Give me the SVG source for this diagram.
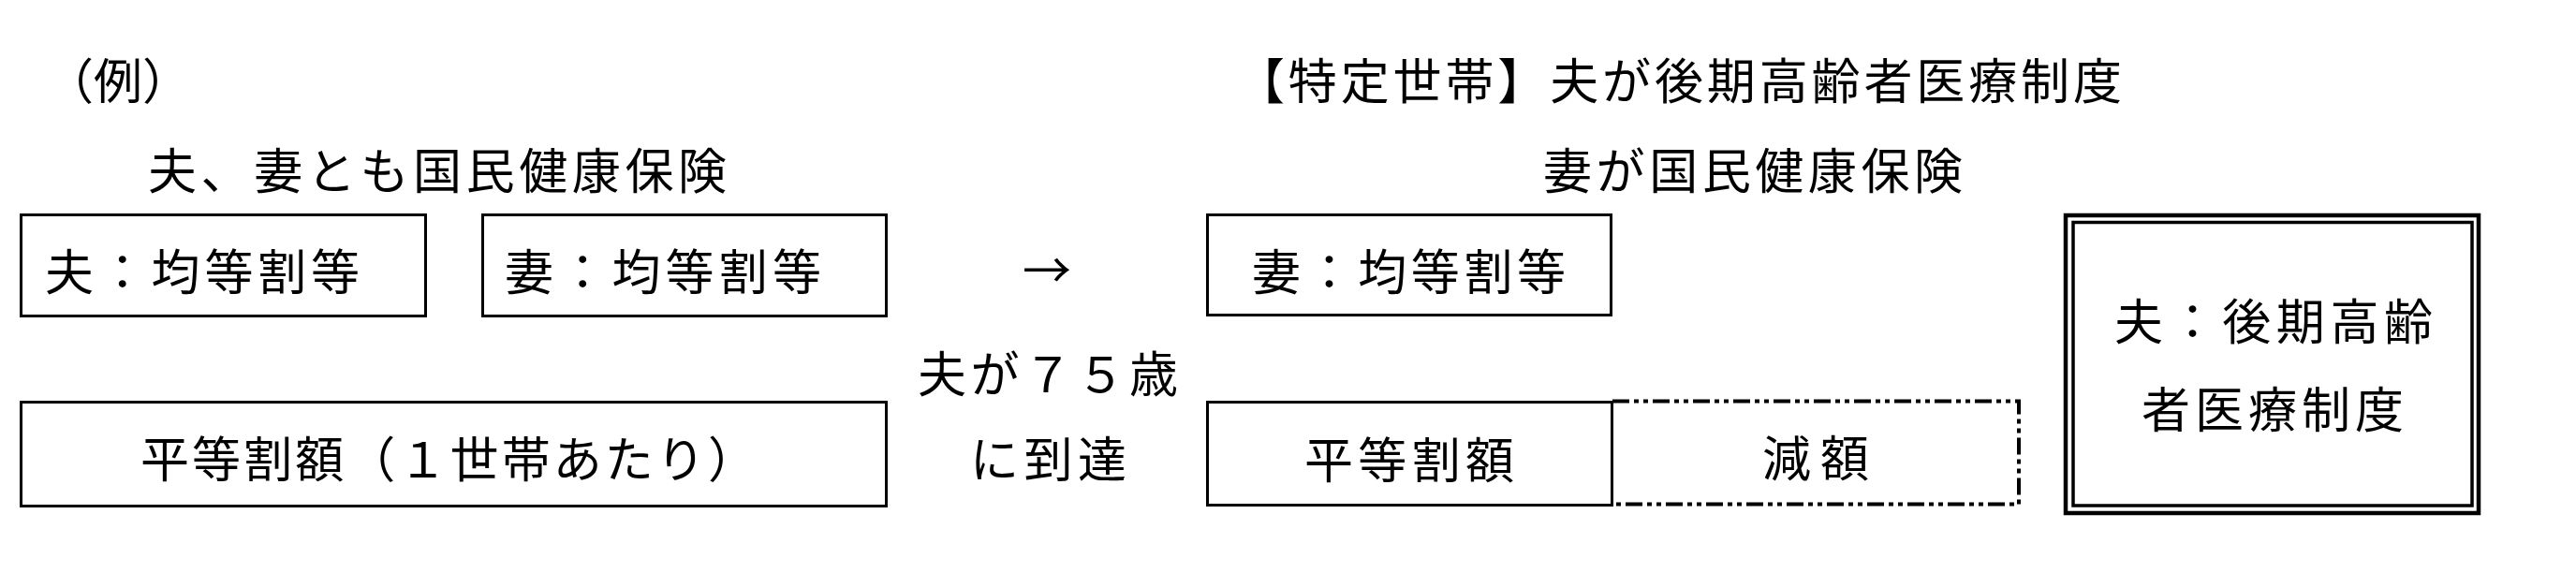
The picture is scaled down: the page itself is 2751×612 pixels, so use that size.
<svg xmlns="http://www.w3.org/2000/svg" width="2751" height="612" viewBox="0 0 2751 612">
<style>
text{font-family:"Noto Sans CJK JP","Noto Sans CJK SC",sans-serif;font-size:52px;fill:#000;}
.box{fill:none;stroke:#000;stroke-width:3;}
.dash{fill:none;stroke:#000;stroke-width:4;stroke-dasharray:18 5 5 5 5 5;}
.outer{fill:none;stroke:#000;stroke-width:4.5;}
.inner{fill:none;stroke:#000;stroke-width:3.5;}
</style>
<rect x="0" y="0" width="2751" height="612" fill="#fff"/>
<g id="labels">
<text x="48" y="106" font-size="56">（例）</text>
<text x="158" y="202" textLength="618" lengthAdjust="spacing">夫、妻とも国民健康保険</text>
<text x="1320" y="106" textLength="946" lengthAdjust="spacing">【特定世帯】夫が後期高齢者医療制度</text>
<text x="1648" y="202" textLength="448" lengthAdjust="spacing">妻が国民健康保険</text>
</g>
<g id="connectors">
<text x="1118" y="308" text-anchor="middle">→</text>
<text x="980" y="419" textLength="278" lengthAdjust="spacing">夫が７５歳</text>
<text x="1036" y="510" textLength="167" lengthAdjust="spacing">に到達</text>
</g>
<g id="husband">
<rect class="box" x="22.5" y="229.5" width="432" height="108"/>
<text x="48" y="310" textLength="336" lengthAdjust="spacing">夫：均等割等</text>
</g>
<g id="wife">
<rect class="box" x="515.5" y="229.5" width="431" height="108"/>
<text x="539" y="310" textLength="338" lengthAdjust="spacing">妻：均等割等</text>
</g>
<g id="flat">
<rect class="box" x="22.5" y="429.5" width="924" height="111"/>
<text x="150" y="510" textLength="658" lengthAdjust="spacing">平等割額（１世帯あたり）</text>
</g>
<g id="wife2">
<rect class="box" x="1289.5" y="229.5" width="431" height="107"/>
<text x="1337" y="310" textLength="335" lengthAdjust="spacing">妻：均等割等</text>
</g>
<g id="reduction">
<path class="dash" d="M1722,428.5 H2156 V538.5 H1722"/>
<text x="1882" y="509" textLength="114" lengthAdjust="spacing">減額</text>
</g>
<g id="flat2">
<rect class="box" x="1289.5" y="429.5" width="432" height="110"/>
<text x="1393" y="511" textLength="224" lengthAdjust="spacing">平等割額</text>
</g>
<g id="husband2">
<rect class="outer" x="2206" y="230" width="441" height="318"/>
<rect class="inner" x="2214" y="237.5" width="426" height="302.5"/>
<text x="2258" y="363" textLength="340" lengthAdjust="spacing">夫：後期高齢</text>
<text x="2287" y="457" textLength="280" lengthAdjust="spacing">者医療制度</text>
</g>
</svg>
